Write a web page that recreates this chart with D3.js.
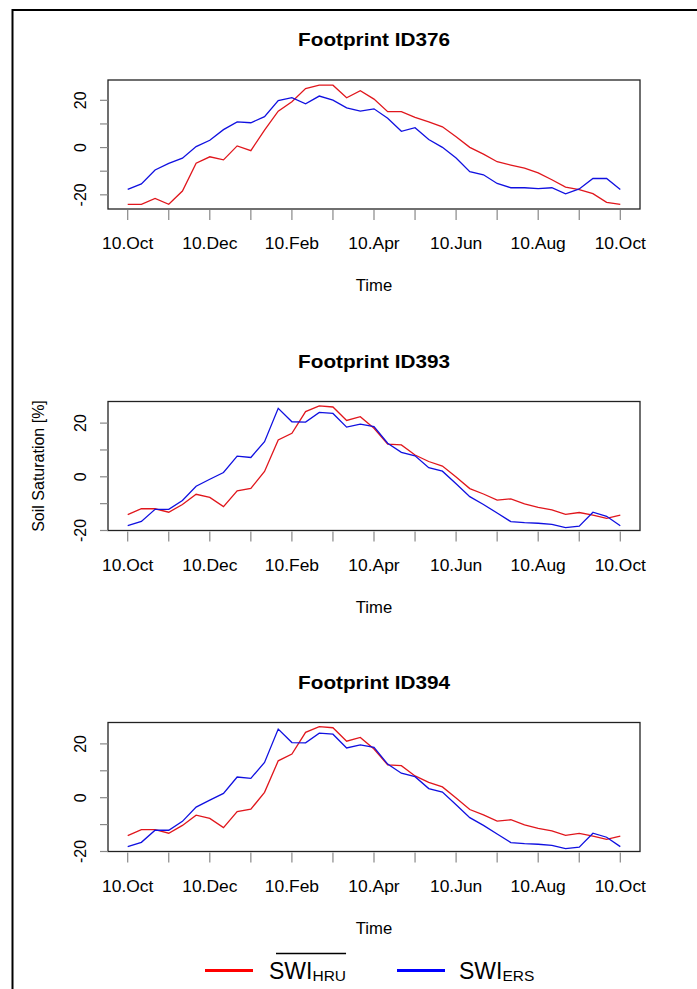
<!DOCTYPE html>
<html>
<head>
<meta charset="utf-8">
<script src="https://cdn.jsdelivr.net/npm/d3@7"></script>
<style>
  body { margin: 0; background: #fff; }
  svg { display: block; }
  text { font-family: "Liberation Sans", Arial, sans-serif; fill: #000; }
</style>
</head>
<body>
<div id="container"></div>
<script>
// tick labels, one per month (every third dekad)
const months = ["10.Oct", "10.Nov", "10.Dec", "10.Jan", "10.Feb", "10.Mar", "10.Apr",
  "10.May", "10.Jun", "10.Jul", "10.Aug", "10.Sep", "10.Oct"];
const yTicks = [-20, -10, 0, 10, 20];
const yLabels = [-20, 0, 20];

// dekadal values (37 points, 10.Oct .. 10.Oct)
const hru376 = [-24.0, -24.0, -21.5, -24.0, -18.4, -6.6, -3.9, -5.2, 0.7, -1.3, 7.4, 15.4, 19.4,
  25.0, 26.4, 26.4, 21.1, 24.1, 20.5, 15.2, 15.2, 12.8, 10.9, 8.8, 4.6, 0.1, -2.8, -6.0, -7.4,
  -8.7, -10.7, -13.6, -16.7, -17.8, -19.5, -23.2, -24.0];
const ers376 = [-17.7, -15.4, -9.5, -6.7, -4.5, 0.4, 3.1, 7.6, 10.9, 10.5, 13.1, 19.9, 21.1,
  18.5, 21.8, 20.1, 16.8, 15.4, 16.4, 12.4, 6.9, 8.4, 3.4, 0.1, -4.4, -10.2, -11.5, -15.2, -17.0,
  -17.0, -17.4, -17.0, -19.6, -17.5, -13.1, -13.1, -17.7];

const hru393 = [-14.1, -11.9, -11.9, -13.2, -10.3, -6.5, -7.7, -11.1, -5.2, -4.3, 2.0, 13.7, 16.2,
  24.3, 26.4, 26.0, 21.0, 22.4, 18.1, 12.2, 11.9, 8.1, 5.7, 4.0, -0.1, -4.4, -6.4, -8.7, -8.2,
  -10.1, -11.4, -12.3, -14.0, -13.3, -14.3, -15.5, -14.3];
const ers393 = [-18.2, -16.6, -12.1, -12.1, -8.8, -3.5, -0.9, 1.6, 7.7, 7.2, 13.1, 25.5, 20.5,
  20.4, 24.0, 23.6, 18.5, 19.6, 18.7, 12.5, 9.1, 7.8, 3.4, 2.1, -2.6, -7.4, -10.3, -13.5, -16.7,
  -17.1, -17.3, -17.7, -18.9, -18.4, -13.2, -14.7, -18.2];

const hru394 = [-14.1, -11.9, -11.9, -13.2, -10.3, -6.5, -7.7, -11.1, -5.2, -4.3, 2.0, 13.7, 16.2,
  24.3, 26.4, 26.0, 21.0, 22.4, 18.1, 12.2, 11.9, 8.1, 5.7, 4.0, -0.1, -4.4, -6.4, -8.7, -8.2,
  -10.1, -11.4, -12.3, -14.0, -13.3, -14.3, -15.5, -14.3];
const ers394 = [-18.2, -16.6, -12.1, -12.1, -8.8, -3.5, -0.9, 1.6, 7.7, 7.2, 13.1, 25.5, 20.5,
  20.4, 24.0, 23.6, 18.5, 19.6, 18.7, 12.5, 9.1, 7.8, 3.4, 2.1, -2.6, -7.4, -10.3, -13.5, -16.7,
  -17.1, -17.3, -17.7, -18.9, -18.4, -13.2, -14.7, -18.2];

const titles = ["Footprint ID376", "Footprint ID393", "Footprint ID394"];
const series = [[hru376, ers376], [hru393, ers393], [hru394, ers394]];
const yDomains = [[-26.0, 28.6], [-20.0, 28.05], [-20.0, 27.95]];

const width = 697, height = 989;
const left = 108, right = 640, plotH = 129;
const tops = [80, 401.5, 722.5];

const svg = d3.select("#container")
  .append("svg")
  .attr("width", width)
  .attr("height", height);

// outer frame (top and left edge)
svg.append("line").attr("x1", 12.5).attr("x2", width).attr("y1", 10).attr("y2", 10)
  .attr("stroke", "#000").attr("stroke-width", 2);
svg.append("line").attr("x1", 12.5).attr("x2", 12.5).attr("y1", 9).attr("y2", height)
  .attr("stroke", "#000").attr("stroke-width", 2);

const x = d3.scaleLinear().domain([-1.44, 37.44]).range([left, right]);

titles.forEach((title, p) => {
  const top = tops[p], bottom = top + plotH;
  const y = d3.scaleLinear().domain(yDomains[p]).range([bottom, top]);
  const g = svg.append("g");

  // the original font runs a bit wider than Arial
  g.append("text")
    .attr("transform", `translate(${(left + right) / 2}, ${top - 34}) scale(1.12, 1)`)
    .attr("text-anchor", "middle")
    .attr("font-weight", "bold")
    .attr("font-size", 18.5)
    .text(title);

  // lines
  const line = d3.line().x((d, i) => x(i)).y(d => y(d));
  g.append("path").datum(series[p][0])
    .attr("d", line).attr("fill", "none")
    .attr("stroke", "#e0161c").attr("stroke-width", 1.3);
  g.append("path").datum(series[p][1])
    .attr("d", line).attr("fill", "none")
    .attr("stroke", "#1010e0").attr("stroke-width", 1.3);

  // box
  g.append("rect")
    .attr("x", left).attr("y", top)
    .attr("width", right - left).attr("height", plotH)
    .attr("fill", "none").attr("stroke", "#222").attr("stroke-width", 1.3);

  // x axis
  const xg = g.append("g");
  months.forEach((m, i) => {
    const xi = x(i * 3);
    xg.append("line").attr("x1", xi).attr("x2", xi)
      .attr("y1", bottom + 1).attr("y2", bottom + 11)
      .attr("stroke", "#888").attr("stroke-width", 1.2);
    if (i % 2 === 0) {
      xg.append("text")
        .attr("transform", `translate(${xi}, ${bottom + 40}) scale(1.09, 1)`)
        .attr("text-anchor", "middle")
        .attr("font-size", 16)
        .text(m);
    }
  });

  // y axis
  yTicks.forEach(v => {
    g.append("line").attr("x1", left - 8).attr("x2", left)
      .attr("y1", y(v)).attr("y2", y(v))
      .attr("stroke", "#888").attr("stroke-width", 1.2);
  });
  yLabels.forEach(v => {
    g.append("text")
      .attr("transform", `translate(86, ${y(v)}) rotate(-90)`)
      .attr("text-anchor", "middle")
      .attr("font-size", 16)
      .text(v);
  });

  g.append("text")
    .attr("transform", `translate(${(left + right) / 2}, ${bottom + 82}) scale(1.04, 1)`)
    .attr("text-anchor", "middle")
    .attr("font-size", 16)
    .text("Time");
});

svg.append("text")
  .attr("transform", `translate(44, ${tops[1] + plotH / 2}) rotate(-90)`)
  .attr("text-anchor", "middle")
  .attr("font-size", 16)
  .text("Soil Saturation [%]");

// legend
const legendItems = [
  { main: "SWI", sub: "HRU", color: "#ff0000", x0: 205, tx: 269, bar: true },
  { main: "SWI", sub: "ERS", color: "#0000ff", x0: 397, tx: 459, bar: false }
];
const legend = svg.append("g");
legendItems.forEach(d => {
  legend.append("line")
    .attr("x1", d.x0).attr("x2", d.x0 + 48)
    .attr("y1", 970.5).attr("y2", 970.5)
    .attr("stroke", d.color).attr("stroke-width", 3);
  const t = legend.append("text")
    .attr("x", d.tx).attr("y", 978.5)
    .attr("font-size", 23);
  t.append("tspan").text(d.main);
  t.append("tspan").attr("font-size", 15.5).attr("dy", 2.5).text(d.sub);
  if (d.bar) {
    const w = t.node().getComputedTextLength();
    legend.append("line")
      .attr("x1", d.tx + 7).attr("x2", d.tx + w)
      .attr("y1", 953.5).attr("y2", 953.5)
      .attr("stroke", "#000").attr("stroke-width", 1.5);
  }
});
</script>
</body>
</html>
